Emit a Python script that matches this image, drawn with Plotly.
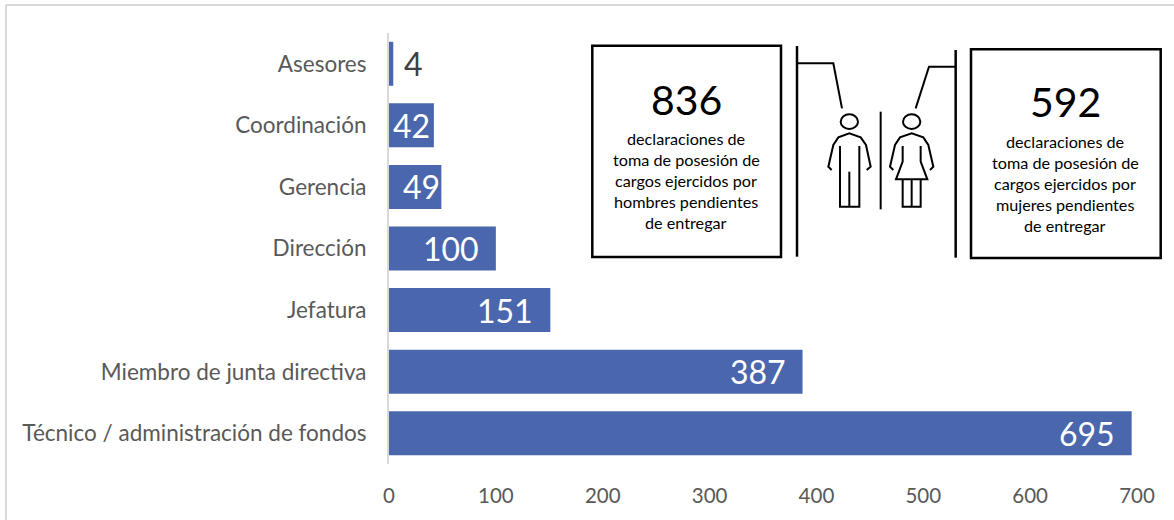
import plotly.graph_objects as go

W, H = 1174, 520
categories = ["Técnico / administración de fondos", "Miembro de junta directiva", "Jefatura",
              "Dirección", "Gerencia", "Coordinación", "Asesores"]
values = [695, 387, 151, 100, 49, 42, 4]
label_shift = [-15, -15, -15, -15, 1, -2, 0]
x_ticks = [0, 100, 200, 300, 400, 500, 600, 700]
men_total = "836"
women_total = "592"
men_lines = ["declaraciones de", "toma de posesión de", "cargos ejercidos por", "hombres pendientes", "de entregar"]
women_lines = ["declaraciones de", "toma de posesión de", "cargos ejercidos por", "mujeres pendientes", "de entregar"]

FONT = "Lato"
GREY = "#595959"
BLUE = "#4a66ac"
X0, X700, YT, YB = 389, 1137, 33, 464

def px(x): return x / W
def py(y): return 1 - y / H

fig = go.Figure(go.Bar(y=categories, x=values, orientation="h", marker=dict(color=BLUE, line_width=0),
                       width=44 / 61.57, hoverinfo="skip"))

annotations = []
for c, v, s in zip(categories, values, label_shift):
    small = v < 10
    annotations.append(dict(x=v, y=c, xref="x", yref="y", text=str(v), showarrow=False,
                            xanchor="left" if small else "right", xshift=9 if small else s,
                            font=dict(family=FONT, size=32, color="#404040" if small else "white")))

def ptext(x, y, t, size):
    annotations.append(dict(x=px(x), y=py(y), xref="paper", yref="paper", text=t, showarrow=False,
                            xanchor="center", yanchor="middle",
                            font=dict(family=FONT, size=size, color="black")))

ptext(686, 100, men_total, 41)
for i, t in enumerate(men_lines):
    ptext(686, 139 + i * 20.8, t, 16.2)
ptext(1065, 102, women_total, 41)
for i, t in enumerate(women_lines):
    ptext(1065, 141.5 + i * 21, t, 16.2)

shapes = []
def pth(points, width=2, close=False):
    d = "M " + " L ".join(f"{px(580 + a / 3):.5f},{py(30 + b / 3):.5f}" for a, b in points)
    shapes.append(dict(type="path", path=d + (" Z" if close else ""), xref="paper", yref="paper",
                       line=dict(color="black", width=width), layer="above"))

def rect(x0, y0, x1, y1):
    shapes.append(dict(type="rect", xref="paper", yref="paper", x0=px(x0), x1=px(x1), y0=py(y0), y1=py(y1),
                       line=dict(color="black", width=2.5), fillcolor="rgba(0,0,0,0)"))

def head(cx, cy):
    shapes.append(dict(type="circle", xref="paper", yref="paper",
                       x0=px(580 + (cx - 26) / 3), x1=px(580 + (cx + 26) / 3),
                       y0=py(30 + (cy - 22) / 3), y1=py(30 + (cy + 22) / 3),
                       line=dict(color="black", width=2)))

# frame
shapes.append(dict(type="line", xref="paper", yref="paper", x0=px(6), x1=px(6), y0=0, y1=py(5),
                   line=dict(color="#d9d9d9", width=2)))
shapes.append(dict(type="line", xref="paper", yref="paper", x0=px(6), x1=1, y0=py(5), y1=py(5),
                   line=dict(color="#d9d9d9", width=2)))

rect(592.3, 45.7, 781, 257)
rect(971, 49.3, 1160.7, 258)
pth([(651, 48), (651, 680)], 2.5)
pth([(651, 100), (760, 100), (786, 235)], 2)
pth([(1127, 60), (1127, 683)], 2.5)
pth([(1127, 110), (1047, 110), (1007, 235)], 2)
pth([(902, 245), (902, 538)], 2)

# man
head(808, 275)
pth([(755, 420), (745, 410), (760, 345), (775, 322), (808, 310), (842, 322), (858, 345), (872, 410), (860, 420)])
pth([(780, 348), (780, 530), (838, 530), (838, 348)])
pth([(808, 425), (808, 530)])
# woman
head(995, 275)
pth([(940, 420), (930, 410), (945, 345), (960, 322), (995, 310), (1030, 322), (1045, 345), (1060, 410), (1050, 420)])
pth([(968, 348), (968, 395), (948, 448), (1042, 448), (1022, 395), (1022, 348)])
pth([(968, 448), (968, 530), (1022, 530), (1022, 448)])
pth([(995, 448), (995, 530)])

fig.update_layout(
    width=W, height=H, margin=dict(l=0, r=0, t=0, b=0, autoexpand=False), paper_bgcolor="white", plot_bgcolor="white",
    showlegend=False, annotations=annotations, shapes=shapes, bargap=1 - 44 / 61.57,
    font=dict(family=FONT, color=GREY),
    xaxis=dict(domain=[px(X0), px(X700)], range=[0, 700], tickvals=x_ticks, showgrid=False, zeroline=False,
               showline=False, ticks="", tickfont=dict(size=20.5, color=GREY), ticklabelstandoff=17, automargin=False),
    yaxis=dict(domain=[py(YB), py(YT)], categoryorder="array", categoryarray=categories, showgrid=False,
               zeroline=False, showline=True, linecolor="#d9d9d9", linewidth=2, ticks="", automargin=False,
               tickfont=dict(size=22.5, color=GREY), ticklabelstandoff=16),
)
fig.write_html("out.html", config={"displayModeBar": False},
               post_script="document.body.style.margin='0';document.documentElement.style.overflow='hidden';")
